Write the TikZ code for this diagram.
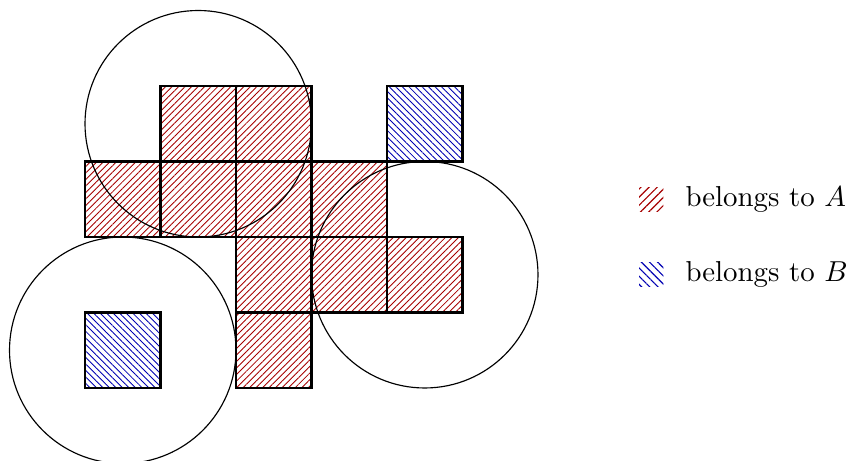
\documentclass[tikz,border=0pt]{standalone}
\usetikzlibrary{patterns.meta}
\tikzset{
  cellA/.style={draw=black, thick, pattern={Lines[angle=45,distance=1.6pt,line width=0.3pt]}, pattern color=red!65!black},
  cellB/.style={draw=black, thick, pattern={Lines[angle=-45,distance=1.6pt,line width=0.3pt]}, pattern color=blue!70!black},
  legA/.style={pattern={Lines[angle=45,distance=2pt,line width=0.4pt]}, pattern color=red!65!black},
  legB/.style={pattern={Lines[angle=-45,distance=2pt,line width=0.4pt]}, pattern color=blue!70!black},
  ring/.style={draw=black, line width=0.4pt},
  legtext/.style={anchor=west, inner sep=0pt}
}
\begin{document}
\begin{tikzpicture}[x=0.92cm,y=0.92cm]
\useasboundingbox (-1.126,-0.967) rectangle (10.093,5.139);
% red cells
\foreach \x/\y in {1/3,2/3,0/2,1/2,2/2,3/2,2/1,3/1,4/1,2/0}{
  \path[cellA] (\x,\y) rectangle ++(1,1);
}
% blue cells
\foreach \x/\y in {4/3,0/0}{
  \path[cellB] (\x,\y) rectangle ++(1,1);
}
% circles
\draw[ring] (1.5,3.5) circle (1.5);
\draw[ring] (4.5,1.5) circle (1.5);
\draw[ring] (0.5,0.5) circle (1.5);
% legend
\path[legA] (7.34,2.34) rectangle (7.66,2.66);
\node[legtext] (la) at (7.947,2.5) {belongs to $A$};
\path[legB] (7.34,1.34) rectangle (7.66,1.66);
\node[legtext] (lb) at (7.947,1.5) {belongs to $B$};
\end{tikzpicture}
\end{document}
